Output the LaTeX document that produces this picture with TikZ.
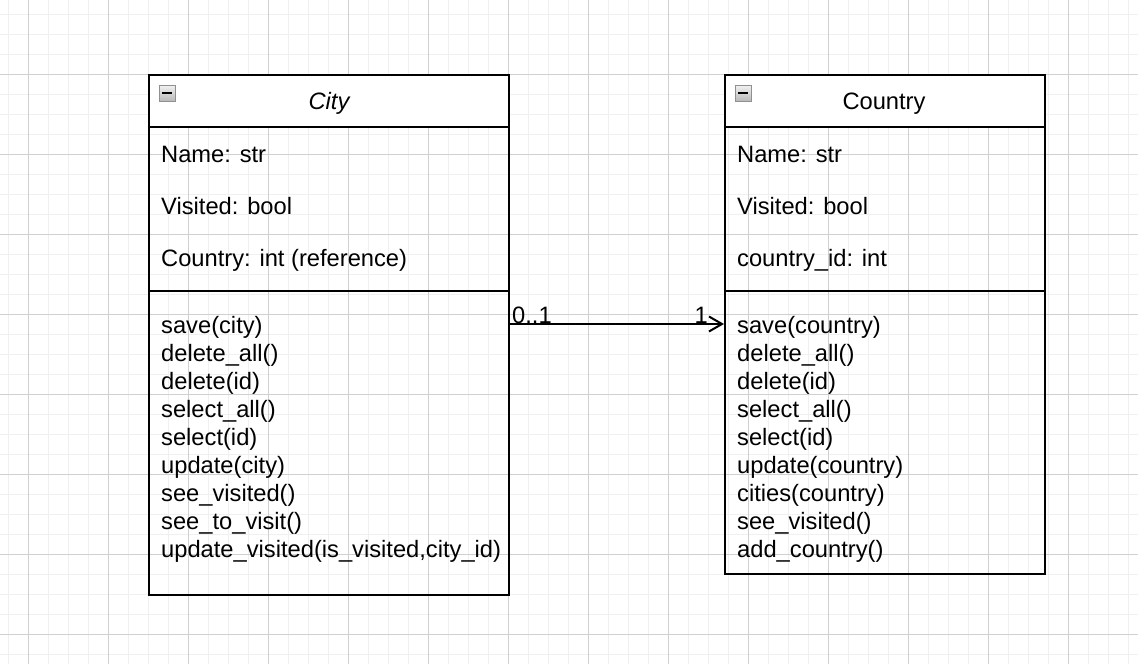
\documentclass[tikz,border=0pt]{standalone}
\usepackage{fontspec}
\setmainfont{Liberation Sans}
\usetikzlibrary{arrows.meta,positioning}

\definecolor{minorgrid}{RGB}{240,240,240}
\definecolor{majorgrid}{RGB}{208,208,208}
\definecolor{iconedge}{RGB}{135,145,165}

\tikzset{
  classbox/.style={draw, line width=2pt},
  classhead/.style={draw, line width=2pt, fill=white},
  member/.style={anchor=base west, inner sep=0pt, font=\fontsize{23.7}{28}\selectfont},
  classname/.style={anchor=base, inner sep=0pt, font=\fontsize{23.7}{28}\selectfont},
  multiplicity/.style={inner sep=0pt, font=\fontsize{23.7}{28}\selectfont},
  minusicon/.style={draw=iconedge, line width=1pt, top color=gray!10, bottom color=gray!55,
                    minimum size=16pt, inner sep=0pt},
}

\begin{document}
\begin{tikzpicture}[x=1pt,y=-1pt]

\useasboundingbox (0,0) rectangle (1138,664);
\fill[white] (0,0) rectangle (1138,664);

% Background grid:
\foreach \x in {8,28,...,1128} \draw[minorgrid, line width=1pt] (\x,0) -- (\x,664);
\foreach \y in {14,34,...,654} \draw[minorgrid, line width=1pt] (0,\y) -- (1138,\y);
\foreach \x in {28,108,...,1068} \draw[majorgrid, line width=1pt] (\x,0) -- (\x,664);
\foreach \y in {74,154,...,634} \draw[majorgrid, line width=1pt] (0,\y) -- (1138,\y);

% City class:
\draw[classbox] (149,75) rectangle (509,595);
\draw[classhead] (149,75) rectangle (509,127);
\draw[classbox] (149,291) -- (509,291);
\node[classname] (cityname) at (329,109) {\itshape City};
\node[member] (cityattr1) at (161,162) {Name: str};
\node[member] (cityattr2) at (161,214) {Visited: bool};
\node[member] (cityattr3) at (161,266) {Country: int (reference)};
\begin{scope}
\clip (149,291) rectangle (500,595);
\foreach \m [count=\i] in {save(city), delete\_all(), delete(id), select\_all(), select(id),
    update(city), see\_visited(), see\_to\_visit(), {update\_visited(is\_visited,city\_id)}}
  \node[member] (citymeth\i) at (161,305+28*\i) {\m};
\end{scope}

% Country class:
\draw[classbox] (725,75) rectangle (1045,574);
\draw[classhead] (725,75) rectangle (1045,127);
\draw[classbox] (725,291) -- (1045,291);
\node[classname] (countryname) at (884,109) {Country};
\node[member] (countryattr1) at (737,162) {Name: str};
\node[member] (countryattr2) at (737,214) {Visited: bool};
\node[member] (countryattr3) at (737,266) {country\_id: int};
\foreach \m [count=\i] in {save(country), delete\_all(), delete(id), select\_all(), select(id),
    update(country), cities(country), see\_visited(), add\_country()}
  \node[member] (countrymeth\i) at (737,305+28*\i) {\m};

% Collapse icons:
\foreach \ix in {167,743} {
  \node[minusicon] at (\ix,93) {};
  \draw[line width=2pt] (\ix-5,93) -- (\ix+5,93);
}

% Association:
\coordinate (cityport) at (509,324);
\coordinate (countryport) at (724,324);
\draw[-{Straight Barb[length=13pt,width=15pt,line width=2pt]}, line width=2pt] (cityport) -- (countryport);
\node[multiplicity, anchor=base west] (citymult) at (512,323) {0..1};
\node[multiplicity, anchor=base east] (countrymult) at (708,323) {1};

\end{tikzpicture}
\end{document}
